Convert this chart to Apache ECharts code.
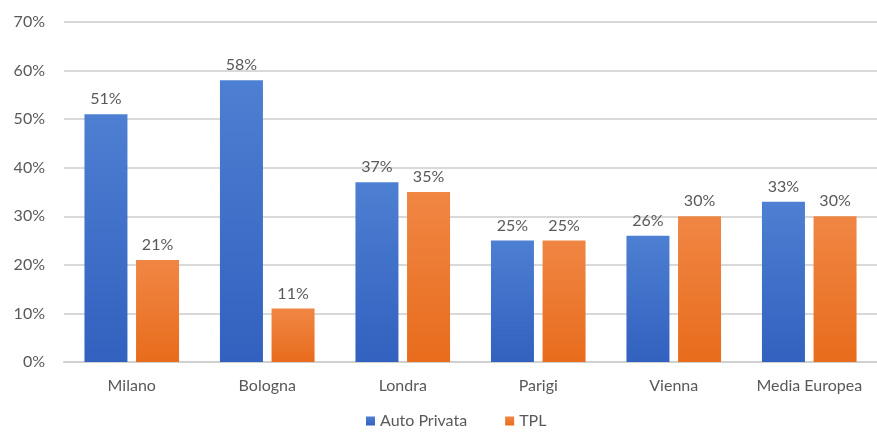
<!DOCTYPE html>
<html><head><meta charset="utf-8">
<script src="https://cdn.jsdelivr.net/npm/echarts@6/dist/echarts.min.js"></script>
<style>html,body{margin:0;padding:0;background:#fff}#c{width:877px;height:433px}</style>
</head><body><div id="c"></div>
<script>
const categories = ['Milano','Bologna','Londra','Parigi','Vienna','Media Europea'];
const autoPrivata = [51,58,37,25,26,33];
const tpl = [21,11,35,25,30,30];
const seriesNames = ['Auto Privata','TPL'];

const chart = echarts.init(document.getElementById('c'));
const font = 'Lato, "Open Sans", "Liberation Sans", sans-serif';
function grad(top, bottom){
  return new echarts.graphic.LinearGradient(0,0,0,1,[{offset:0,color:top},{offset:1,color:bottom}]);
}
const lbl = {show:true, position:'top', distance:7, formatter:'{c}%', color:'#595959', fontSize:16, fontFamily:font};
chart.setOption({
  animation:false,
  grid:{left:64, top:22, width:818, bottom:71},
  legend:{bottom:-1, left:361, itemWidth:9, itemHeight:9, itemGap:38, icon:'rect',
    textStyle:{color:'#595959', fontSize:16, fontFamily:font},
    data:seriesNames},
  xAxis:{type:'category', data:categories,
    axisLine:{lineStyle:{color:'#d0d0d0', width:2}}, axisTick:{show:false},
    axisLabel:{color:'#595959', fontSize:16, fontFamily:font, margin:16, interval:0, hideOverlap:false}},
  yAxis:{type:'value', min:0, max:70, interval:10,
    axisLabel:{formatter:'{value}%', color:'#595959', fontSize:16, fontFamily:font, margin:19},
    splitLine:{lineStyle:{color:'#d9d9d9', width:2}}},
  series:[
    {name:seriesNames[0], type:'bar', data:autoPrivata, barWidth:43, barGap:'20%',
     itemStyle:{color:grad('#4d7fd2','#3261bf')}, label:lbl},
    {name:seriesNames[1], type:'bar', data:tpl, barWidth:43,
     itemStyle:{color:grad('#f08644','#e86c1c')}, label:lbl}
  ]
});
</script></body></html>
